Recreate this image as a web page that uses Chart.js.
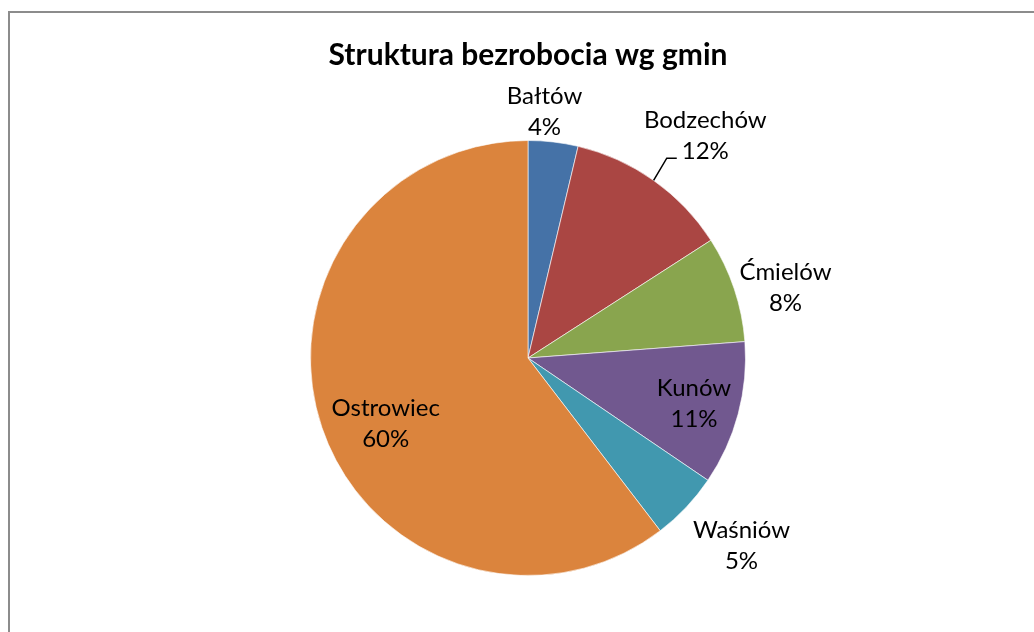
<!DOCTYPE html>
<html>
<head>
<meta charset="utf-8">
<script src="https://cdn.jsdelivr.net/npm/chart.js@4/dist/chart.umd.min.js"></script>
<style>
  body { margin: 0; background: #fff; overflow: hidden; }
  #frame { position: absolute; left: 8px; top: 11px; width: 1100px; height: 700px; border: 2px solid #8c8c8c; }
  #chart { position: absolute; left: 0; top: 0; }
</style>
</head>
<body>
<div id="frame"></div>
<canvas id="chart" width="1034" height="632"></canvas>
<script>
const categories = ['Bałtów', 'Bodzechów', 'Ćmielów', 'Kunów', 'Waśniów', 'Ostrowiec'];
const shares = [3.7, 12.2, 7.9, 10.7, 5.1, 60.4];
const sliceColors = ['#4572A7', '#AA4643', '#89A54E', '#71588F', '#4198AF', '#DB843D'];

// where each label sits: fraction of radius along the slice middle, plus a nudge
const labelPlacement = [
    { f: 1.13, dx: -12, dy: -2 },
    { f: 1.30, dx: 14, dy: 9, leader: true },
    { f: 1.20, dx: 10, dy: 13 },
    { f: 0.79, dx: 0, dy: 1 },
    { f: 1.30, dx: 8, dy: -6 },
    { f: 0.72, dx: 6, dy: 16 }
];

const LABEL_FONT = '24px Lato, "Open Sans", sans-serif';

const pieLabels = {
    id: 'pieLabels',
    afterDatasetsDraw(chart) {
        const ctx = chart.ctx;
        const arcs = chart.getDatasetMeta(0).data;
        const total = shares.reduce((a, b) => a + b, 0);
        ctx.save();
        ctx.font = LABEL_FONT;
        ctx.fillStyle = '#000';
        ctx.textAlign = 'center';
        ctx.textBaseline = 'middle';
        arcs.forEach((arc, i) => {
            const { x, y, startAngle, endAngle, outerRadius } = arc.getProps(['x', 'y', 'startAngle', 'endAngle', 'outerRadius'], true);
            const mid = (startAngle + endAngle) / 2;
            const p = labelPlacement[i];
            const lx = x + Math.cos(mid) * outerRadius * p.f + p.dx;
            const ly = y + Math.sin(mid) * outerRadius * p.f + p.dy;
            const pct = Math.round(shares[i] / total * 100) + '%';
            ctx.fillText(categories[i], lx, ly - 15.5);
            ctx.fillText(pct, lx, ly + 15.5);
            if (p.leader) {
                const w = ctx.measureText(pct).width;
                const ex = lx - w / 2 - 5;
                const ey = ly + 22;
                ctx.beginPath();
                ctx.strokeStyle = '#000';
                ctx.lineWidth = 1.5;
                ctx.moveTo(x + Math.cos(mid) * outerRadius, y + Math.sin(mid) * outerRadius);
                ctx.lineTo(ex - 10, ey);
                ctx.lineTo(ex, ey);
                ctx.stroke();
            }
        });
        ctx.restore();
    }
};

new Chart(document.getElementById('chart'), {
    type: 'pie',
    data: {
        labels: categories,
        datasets: [{
            data: shares,
            backgroundColor: sliceColors,
            borderColor: 'rgba(255,255,255,0.6)',
            borderWidth: 1
        }]
    },
    options: {
        responsive: false,
        animation: false,
        layout: { padding: { left: 310, right: 288, top: 0, bottom: 56 } },
        plugins: {
            legend: { display: false },
            tooltip: { enabled: false },
            title: {
                display: true,
                text: 'Struktura bezrobocia wg gmin',
                color: '#000',
                font: { family: 'Lato, "Open Sans", sans-serif', size: 30, weight: 'bold', lineHeight: 1.2 },
                padding: { top: 37, bottom: 67 }
            }
        }
    },
    plugins: [pieLabels]
});
</script>
</body>
</html>
